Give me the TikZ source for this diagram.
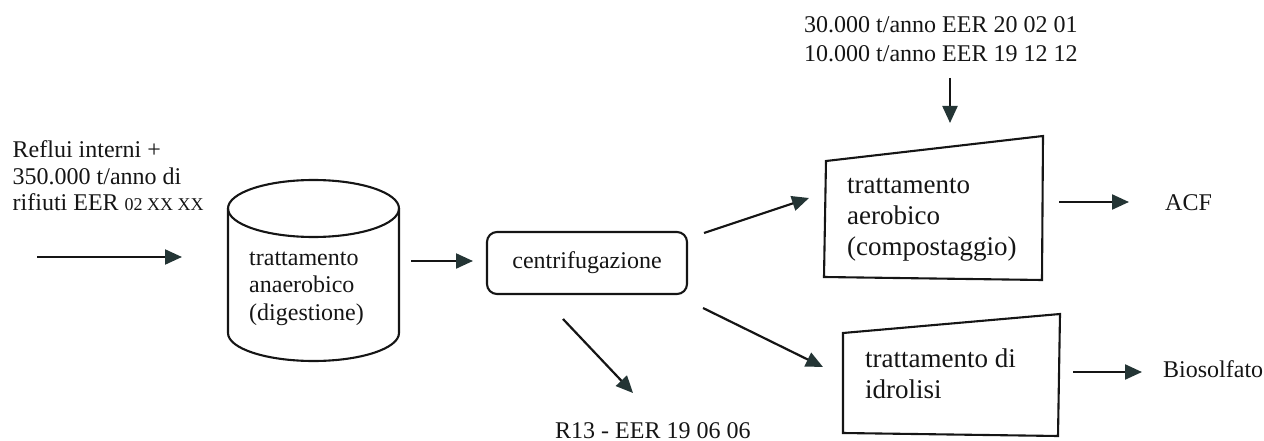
\documentclass[tikz,border=0pt]{standalone}
\usepackage{fontspec}
\setmainfont{Liberation Serif}
\usetikzlibrary{arrows.meta}
\definecolor{headc}{HTML}{243535}
\definecolor{inkc}{HTML}{151515}
\tikzset{
  flow/.style={line width=2.2pt, draw=inkc, -{Triangle[length=17pt,width=15pt,color=headc]}},
  boxline/.style={line width=2.1pt, draw=inkc, line join=miter},
  txt/.style={inner sep=0pt, anchor=base west, align=left, text=inkc, font=\fontsize{24}{27}\selectfont},
  bigtxt/.style={txt, font=\fontsize{27}{31}\selectfont},
}
\begin{document}
\begin{tikzpicture}[x=1pt,y=-1pt]
\useasboundingbox (0,0) rectangle (1264,441);

% texts (anchor = baseline of the last line)
\node[txt] (inp) at (12.5,211) {Reflui interni +\\350.000 t/anno di\\rifiuti EER {\fontsize{18}{27}\selectfont 02 XX XX}};
\node[txt, font=\fontsize{24}{29}\selectfont] (top) at (804,62) {30.000 t/anno EER 20 02 01\\10.000 t/anno EER 19 12 12};
\node[txt, font=\fontsize{24}{27.5}\selectfont] (dig) at (249,320) {trattamento\\anaerobico\\(digestione)};
\node[draw=inkc, line width=2.1pt, rounded corners=10pt, minimum width=200pt, minimum height=62pt,
      inner sep=0pt, font=\fontsize{24}{27}\selectfont, text=inkc] (cen) at (587,263) {centrifugazione};
\node[bigtxt] (aer) at (847,255) {trattamento\\aerobico\\(compostaggio)};
\node[bigtxt] (idr) at (865,398) {trattamento di\\idrolisi};
\node[txt] (acf) at (1165,210) {ACF};
\node[txt] (bio) at (1163,377) {Biosolfato};
\node[txt] (r13) at (555,438) {R13 - EER 19 06 06};

% cylinder
\draw[boxline] (228,208.5) -- (228,333)
   arc[start angle=180, end angle=360, x radius=85.5pt, y radius=28pt] -- (399,208.5);
\draw[boxline] (313.5,208.5) ellipse [x radius=85.5pt, y radius=28.5pt];

% trapezoids
\coordinate (aerA) at (826,161); \coordinate (aerB) at (1043,136);
\coordinate (aerC) at (1042,280); \coordinate (aerD) at (824,277);
\draw[boxline] (aerA) -- (aerB) -- (aerC) -- (aerD) -- cycle;
\coordinate (idrA) at (843,333); \coordinate (idrB) at (1060,314);
\coordinate (idrC) at (1058,436); \coordinate (idrD) at (843,433);
\draw[boxline] (idrA) -- (idrB) -- (idrC) -- (idrD) -- cycle;

% arrow end points
\coordinate (a1s) at (37,257);   \coordinate (a1e) at (182,257);
\coordinate (a2s) at (411,261);  \coordinate (a2e) at (473,261);
\coordinate (a3s) at (704,233);  \coordinate (a3e) at (809,198);
\coordinate (a4s) at (703,308);  \coordinate (a4e) at (823,367);
\coordinate (a5s) at (563,319);  \coordinate (a5e) at (633,393);
\coordinate (a6s) at (950,78);   \coordinate (a6e) at (950,123);
\coordinate (a7s) at (1059,202); \coordinate (a7e) at (1129,202);
\coordinate (a8s) at (1073,372); \coordinate (a8e) at (1142,372);

\draw[flow] (a1s) -- (a1e);
\draw[flow] (a2s) -- (a2e);
\draw[flow] (a3s) -- (a3e);
\draw[flow] (a4s) -- (a4e);
\draw[flow] (a5s) -- (a5e);
\draw[flow] (a6s) -- (a6e);
\draw[flow] (a7s) -- (a7e);
\draw[flow] (a8s) -- (a8e);
\end{tikzpicture}
\end{document}
